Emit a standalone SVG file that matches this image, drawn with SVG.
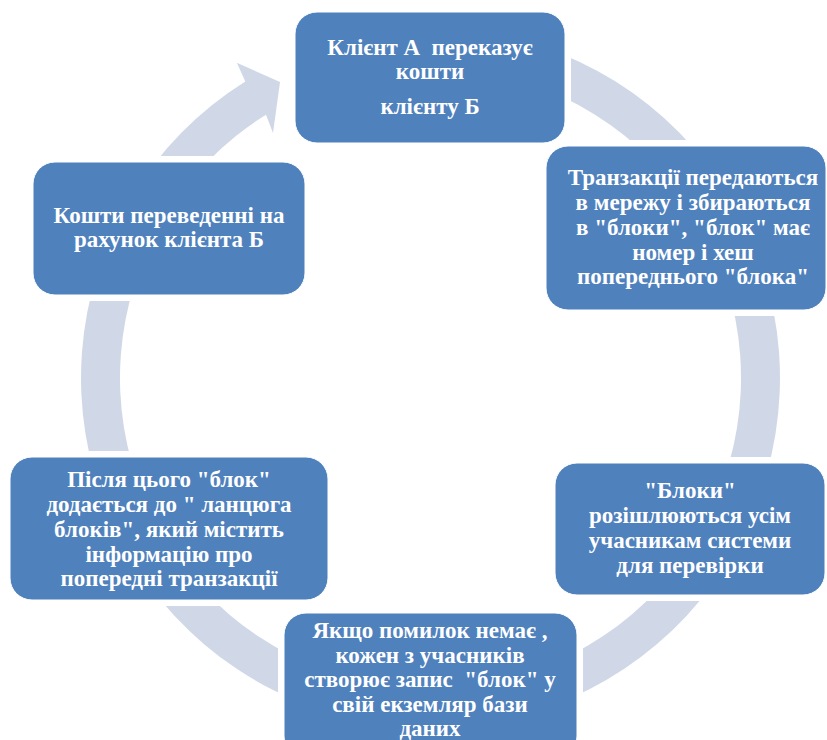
<svg xmlns="http://www.w3.org/2000/svg" width="827" height="740" viewBox="0 0 827 740">
<style>
.box{fill:#4F81BD;stroke:#FFFFFF;stroke-width:1}
.t{font-family:"Liberation Serif","Times New Roman",serif;font-weight:bold;font-size:23px;fill:#FFFFFF;text-anchor:middle;white-space:pre}
.ring{fill:#D0D8E8}
</style>
<defs>
<mask id="cut" maskUnits="userSpaceOnUse" x="0" y="0" width="827" height="740">
<rect x="0" y="0" width="827" height="740" fill="#fff"/>
<rect x="289" y="6" width="282" height="143" fill="#000"/>
<rect x="540" y="140" width="292" height="176" fill="#000"/>
<rect x="549" y="457" width="282" height="144" fill="#000"/>
<rect x="278" y="607" width="305" height="140" fill="#000"/>
<rect x="4" y="451" width="330" height="155" fill="#000"/>
<rect x="27" y="156" width="284" height="145" fill="#000"/>
</mask>
</defs>
<g id="connectors">
<path class="ring" mask="url(#cut)" d="M460.96,29.83 A349.5,349.5 0 1 1 245.29,81.61 L236.84,62.72 L280.04,82.06 L273,133 L265.96,114.68 A310.5,310.5 0 1 0 457.56,68.68 Z"/>
</g>
<g id="node1">
<rect class="box" x="295" y="12" width="270" height="131" rx="22"/>
<text class="t" x="430" y="55">Клієнт А  переказує</text>
<text class="t" x="430" y="79">кошти</text>
<text class="t" x="430" y="114">клієнту Б</text>
</g>
<g id="node2">
<rect class="box" x="546" y="146" width="280" height="164" rx="22"/>
<text class="t" x="693" y="185">Транзакції передаються</text>
<text class="t" x="693" y="210">в мережу і збираються</text>
<text class="t" x="693" y="235">в "блоки", "блок" має</text>
<text class="t" x="693" y="260">номер і хеш</text>
<text class="t" x="693" y="284">попереднього "блока"</text>
</g>
<g id="node3">
<rect class="box" x="555" y="463" width="270" height="132" rx="22"/>
<text class="t" x="690" y="498">"Блоки"</text>
<text class="t" x="690" y="523">розішлюються усім</text>
<text class="t" x="690" y="548">учасникам системи</text>
<text class="t" x="690" y="573">для перевірки</text>
</g>
<g id="node4">
<rect class="box" x="284" y="613" width="293" height="145" rx="22"/>
<text class="t" x="430" y="638">Якщо помилок немає ,</text>
<text class="t" x="430" y="663">кожен з учасників</text>
<text class="t" x="430" y="687">створює запис  "блок" у</text>
<text class="t" x="430" y="712">свій екземляр бази</text>
<text class="t" x="430" y="736">даних</text>
</g>
<g id="node5">
<rect class="box" x="10" y="457" width="318" height="143" rx="22"/>
<text class="t" x="169" y="487">Після цього "блок"</text>
<text class="t" x="169" y="512">додається до " ланцюга</text>
<text class="t" x="169" y="537">блоків", який містить</text>
<text class="t" x="169" y="562">інформацію про</text>
<text class="t" x="169" y="586">попередні транзакції</text>
</g>
<g id="node6">
<rect class="box" x="33" y="162" width="272" height="133" rx="22"/>
<text class="t" x="169" y="223">Кошти переведенні на</text>
<text class="t" x="169" y="247">рахунок клієнта Б</text>
</g>
</svg>
